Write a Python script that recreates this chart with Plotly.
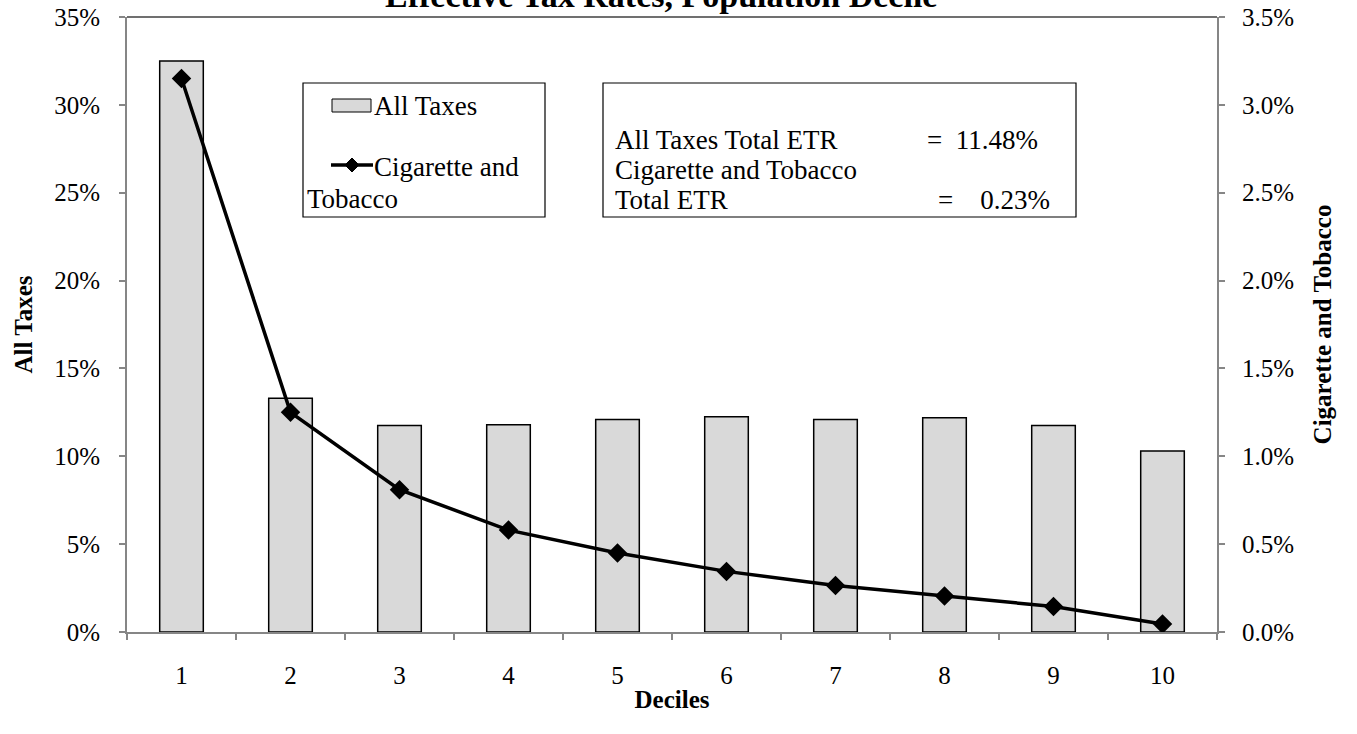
import plotly.graph_objects as go

deciles = ["1", "2", "3", "4", "5", "6", "7", "8", "9", "10"]
all_taxes = [32.5, 13.3, 11.75, 11.8, 12.1, 12.25, 12.1, 12.2, 11.75, 10.3]
cig_tobacco = [3.15, 1.25, 0.81, 0.58, 0.45, 0.345, 0.265, 0.205, 0.145, 0.045]
left_ticks = [0, 5, 10, 15, 20, 25, 30, 35]
right_ticks = [0, 0.5, 1.0, 1.5, 2.0, 2.5, 3.0, 3.5]

FONT = "Liberation Serif, Times New Roman, serif"

W, H = 1357, 734
L, R, T, B = 127, 1217, 17, 632

fig = go.Figure()
fig.add_trace(go.Bar(
    x=deciles, y=all_taxes, name="All Taxes", width=0.4,
    marker=dict(color="#d9d9d9", line=dict(color="black", width=1.5)),
    yaxis="y", showlegend=False,
))
fig.add_trace(go.Scatter(
    x=deciles, y=cig_tobacco, name="Cigarette and Tobacco", mode="lines+markers",
    line=dict(color="black", width=3.5),
    marker=dict(symbol="diamond", size=15, color="black"),
    yaxis="y2", showlegend=False,
))

TICKF = 25
TITF = 25
fig.update_layout(
    width=W, height=H,
    margin=dict(l=L, r=W - R, t=T, b=H - B, autoexpand=False),
    plot_bgcolor="white", paper_bgcolor="white",
    font=dict(family=FONT, size=TICKF, color="black"),
    xaxis=dict(
        type="category", range=[-0.5, 9.5], showline=True, linecolor="#868686", linewidth=2,
        ticks="outside", tickson="boundaries", ticklen=6, tickcolor="#868686", tickwidth=1.5,
        ticklabelstandoff=20, showgrid=False, tickfont=dict(size=TICKF),
        title=dict(text="<b>Deciles</b>", font=dict(size=TITF), standoff=2),
    ),
    yaxis=dict(
        range=[0, 35], tickvals=left_ticks, ticktext=[f"{v}%" for v in left_ticks],
        showline=True, linecolor="#868686", linewidth=2, ticks="outside", ticklen=6,
        tickcolor="#868686", tickwidth=1.5, showgrid=False, ticklabelstandoff=14,
        ticklabeloverflow="allow", tickfont=dict(size=TICKF),
        title=dict(text="<b>All Taxes</b>", font=dict(size=TITF), standoff=14),
    ),
    yaxis2=dict(
        range=[0, 3.5], overlaying="y", side="right",
        tickvals=right_ticks, ticktext=[f"{v:.1f}%" for v in right_ticks],
        showline=True, linecolor="#868686", linewidth=2, ticks="outside", ticklen=6,
        tickcolor="#868686", tickwidth=1.5, showgrid=False, ticklabelstandoff=12,
        ticklabeloverflow="allow", tickfont=dict(size=TICKF),
        title=dict(text="<b>Cigarette and Tobacco</b>", font=dict(size=TITF), standoff=20),
    ),
)

def px(x):
    return (x - L) / (R - L)
def py(y):
    return (B - y) / (B - T)

shapes = []
shapes.append(dict(type="line", xref="paper", yref="paper", x0=0, x1=1, y0=1, y1=1,
                   line=dict(color="#404040", width=1.5)))
# legend box
shapes.append(dict(type="rect", xref="paper", yref="paper", x0=px(303), x1=px(545), y0=py(217), y1=py(83),
                   line=dict(color="black", width=1.2), fillcolor="white", layer="above"))
shapes.append(dict(type="rect", xref="paper", yref="paper", x0=px(332), x1=px(371), y0=py(112), y1=py(99),
                   line=dict(color="black", width=1), fillcolor="#d9d9d9", layer="above"))
shapes.append(dict(type="line", xref="paper", yref="paper", x0=px(331), x1=px(373), y0=py(165), y1=py(165),
                   line=dict(color="black", width=3.5), layer="above"))
cx, cy, d = 352, 165, 7
shapes.append(dict(type="path", xref="paper", yref="paper",
                   path=f"M {px(cx-d)} {py(cy)} L {px(cx)} {py(cy-d)} L {px(cx+d)} {py(cy)} L {px(cx)} {py(cy+d)} Z",
                   fillcolor="black", line=dict(color="black", width=1), layer="above"))
# info box
shapes.append(dict(type="rect", xref="paper", yref="paper", x0=px(603), x1=px(1076), y0=py(217), y1=py(83),
                   line=dict(color="black", width=1.2), fillcolor="white", layer="above"))
fig.update_layout(shapes=shapes)

ann = []
def text(x, y, s, anchor="left", size=27):
    ann.append(dict(xref="paper", yref="paper", x=px(x), y=py(y), text=s,
                    showarrow=False, xanchor=anchor, yanchor="middle",
                    font=dict(family=FONT, size=size, color="black")))

text(372, 106, "All Taxes")
text(372, 167, "Cigarette and")
text(305, 199, "Tobacco")
text(613, 140, "All Taxes Total ETR")
text(1040, 140, "=  11.48%", anchor="right")
text(613, 170, "Cigarette and Tobacco")
text(613, 200, "Total ETR")
text(1052, 200, "=    0.23%", anchor="right")
fig.update_layout(annotations=ann)
fig.add_annotation(xref="paper", yref="paper", x=px(661), y=1, yanchor="middle", yshift=22,
                   text="<b>Effective Tax Rates, Population Decile</b>", showarrow=False,
                   font=dict(family=FONT, size=34, color="black"))

fig.write_html("out.html", config={"displayModeBar": False},
               post_script="document.body.style.margin='0px';document.body.style.overflow='hidden';")
